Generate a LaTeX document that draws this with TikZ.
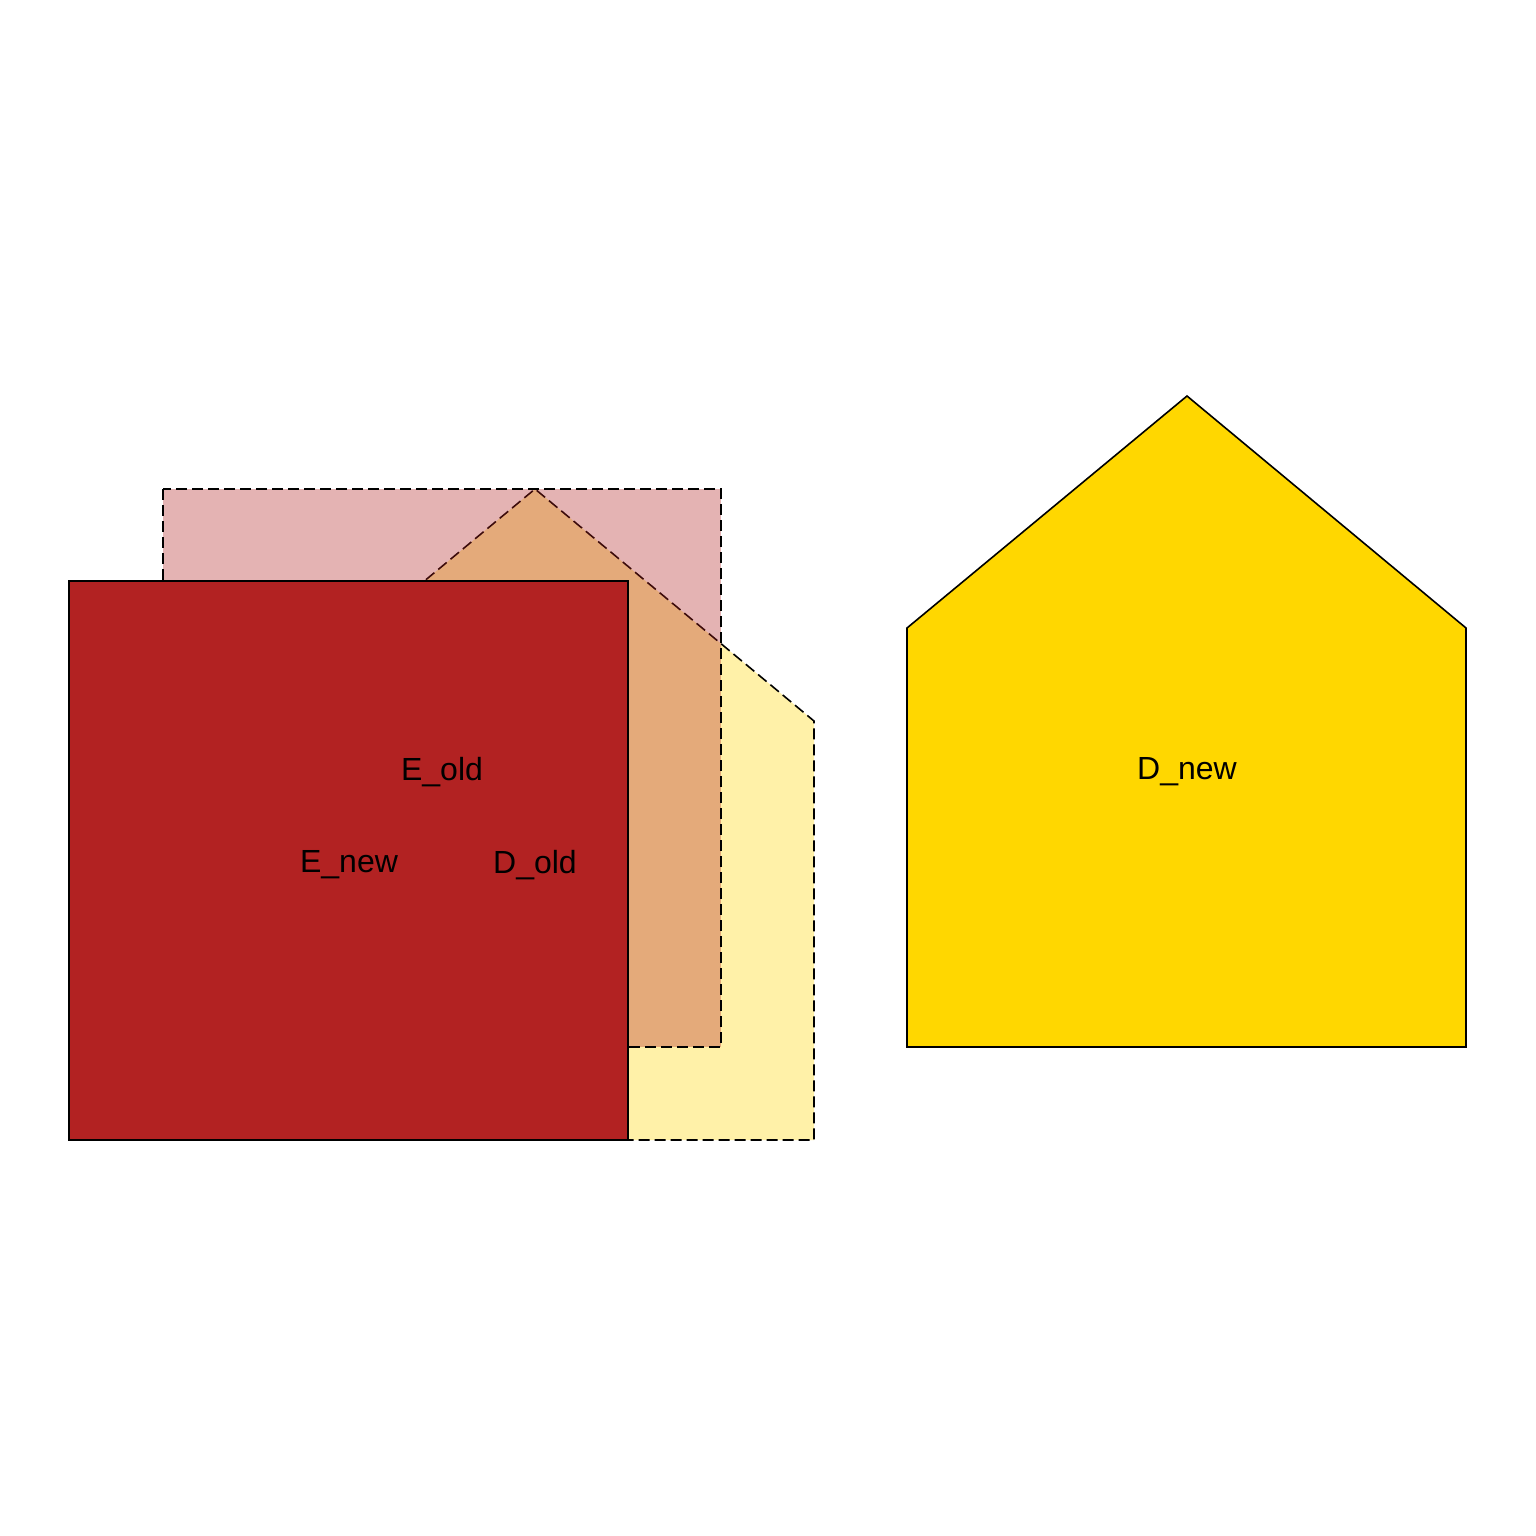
\documentclass[tikz,border=0pt]{standalone}
\usepackage{fontspec}
\setmainfont{Liberation Sans}
\definecolor{firebrick}{HTML}{B22222}
\definecolor{goldc}{HTML}{FFD700}
\begin{document}
\begin{tikzpicture}[x=1pt,y=-1pt,
  oldshape/.style={draw=black, line width=1.6pt, dash pattern=on 11pt off 5pt, fill opacity=0.34},
  newshape/.style={draw=black, line width=1.6pt},
  lbl/.style={font=\fontsize{32}{32}\selectfont, text=black, inner sep=0pt, anchor=center}]
\useasboundingbox (0,0) rectangle (1536,1536);
\fill[white] (0,0) rectangle (1536,1536);
% D_old
\draw[oldshape, fill=goldc] (256,1140) -- (256,721) -- (535,489) -- (814,721) -- (814,1140) -- cycle;
% E_old
\draw[oldshape, fill=firebrick] (163,489) rectangle (721,1047);
% E_new
\draw[newshape, fill=firebrick] (69,581) rectangle (628,1140);
% D_new
\draw[newshape, fill=goldc] (907,1047) -- (907,628) -- (1187,396) -- (1466,628) -- (1466,1047) -- cycle;
% labels
\node[lbl] (eold) at (442,772) {E\_old};
\node[lbl] (enew) at (349,865) {E\_new};
\node[lbl] (dold) at (535,865) {D\_old};
\node[lbl] (dnew) at (1187,772) {D\_new};
\end{tikzpicture}
\end{document}
